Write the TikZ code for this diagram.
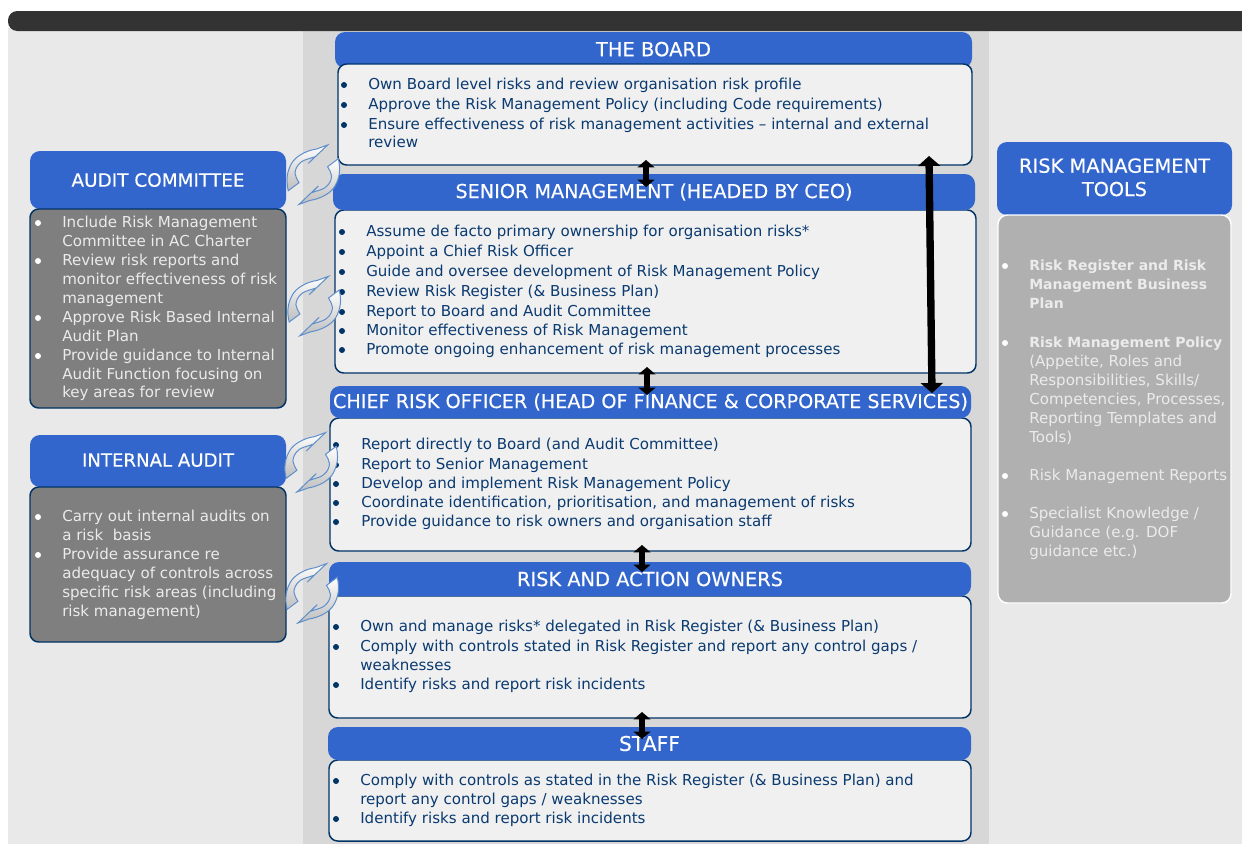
\documentclass[tikz,border=0pt]{standalone}
\usepackage{fontspec}
\usetikzlibrary{arrows.meta,calc}
\setmainfont{DejaVu Sans}
\newfontfamily\headfont[FakeBold=0.25]{DejaVu Sans}
\definecolor{hblue}{HTML}{3366CC}
\definecolor{navy}{HTML}{003366}
\definecolor{bodytxt}{HTML}{0A3A70}
\definecolor{panel}{HTML}{E9E9E9}
\definecolor{midcol}{HTML}{D7D7D7}
\definecolor{bodyfill}{HTML}{F0F0F0}
\definecolor{darkbar}{HTML}{333333}
\definecolor{greybox}{HTML}{7F7F7F}
\definecolor{toolbox}{HTML}{B0B0B0}
\definecolor{cycline}{HTML}{5F8FCB}
\definecolor{cyctail}{HTML}{BDBDBD}
\newcounter{ln}
\tikzset{
  x=0.75pt,y=-0.75pt,
  hdr/.style={rounded corners=7.5pt,fill=hblue,text=white,inner sep=0pt,align=center,font=\headfont\fontsize{14}{17.5}\selectfont},
  bodybox/.style={rounded corners=6.5pt,draw=navy,line width=1.1pt,fill=bodyfill,inner sep=0pt},
  greyb/.style={rounded corners=6.5pt,draw=navy,line width=1.1pt,fill=greybox,inner sep=0pt},
  toolb/.style={rounded corners=7pt,draw=white,line width=1.1pt,fill=toolbox,inner sep=0pt},
  ltxt/.style={anchor=mid west,inner sep=0pt,yshift=-1pt,font=\fontsize{11.3}{13}\selectfont},
  boldt/.style={font=\fontsize{10.5}{13}\selectfont\bfseries},
  dark/.style={text=bodytxt},
  light/.style={text=white!92!black},
  bigarrow/.style={line width=5.5pt,{Triangle[width=16.5pt,length=7.5pt]}-{Triangle[width=16.5pt,length=7.5pt]}},
  smallarrow/.style={line width=3.8pt,{Triangle[width=12.5pt,length=5.5pt]}-{Triangle[width=12.5pt,length=5.5pt]}},
}
% header text fitted to a width in pixels
\newcommand{\hw}[2]{\resizebox{\dimexpr #1pt*3/4\relax}{!}{#2}}
% box from corners: name, style, x1,y1,x2,y2, text
\newcommand{\rbox}[7]{%
  \pgfmathsetmacro{\bw}{(#5-#3)*0.75}\pgfmathsetmacro{\bh}{(#6-#4)*0.75}%
  \node[#2,minimum width=\bw pt,minimum height=\bh pt] (#1) at ({(#3+#5)/2},{(#4+#6)/2}) {#7};}
% text line
\newcommand{\tl}[4]{\stepcounter{ln}\node[ltxt,#1] (t\arabic{ln}) at (#2,#3) {#4};}
% bullet
\newcommand{\bu}[3]{\stepcounter{ln}\node[circle,fill=#1,inner sep=0pt,minimum size=4.5pt] (b\arabic{ln}) at (#2,#3) {};}
% cycle arrows
\newcommand{\cyc}[2]{%
\foreach \r in {0,180}{
\begin{scope}[shift={(#1,#2)},rotate=\r]
\draw[cycline,line width=0.75pt,line join=miter,top color=white,middle color=white,bottom color=cyctail]
 (14.3,-29.7) -- (-5,-11.3) -- (1.7,-18)
 .. controls (-4,-16) and (-9,-15) .. (-11.7,-13)
 .. controls (-17,-9) and (-18,-5) .. (-18.3,-1.3)
 .. controls (-18,2) and (-16,5) .. (-14.3,8)
 -- (-25,16)
 .. controls (-27.5,6) and (-26.5,-3) .. (-21.7,-11.3)
 .. controls (-18,-18) and (-8,-24) .. (3.3,-25.7)
 -- cycle;
\end{scope}}}
\begin{document}
\begin{tikzpicture}
\useasboundingbox (0,0) rectangle (1242,844);
\fill[white] (0,0) rectangle (1242,844);
\fill[panel] (8,28) rectangle (1242,844);
\fill[midcol] (303,31) rectangle (989,844);
\fill[darkbar,rounded corners=7pt] (8,11) rectangle (1262,31);

% middle column
\rbox{boardh}{hdr}{335}{32}{972}{68}{\raisebox{1.5pt}{\hw{115}{THE BOARD}}}
\rbox{boardb}{bodybox}{338}{64}{972}{165}{}
\rbox{srb}{bodybox}{335}{210}{976}{373}{}
\rbox{srh}{hdr}{333}{174}{975}{210}{\hw{397}{SENIOR MANAGEMENT (HEADED BY CEO)}}
\rbox{crob}{bodybox}{330}{418}{971}{551}{}
\rbox{croh}{hdr}{330}{386}{971}{418}{\raisebox{1.5pt}{\hw{635}{CHIEF RISK OFFICER (HEAD OF FINANCE \& CORPORATE SERVICES)}}}
\rbox{rab}{bodybox}{329}{596}{971}{718}{}
\rbox{rah}{hdr}{329}{562}{971}{596}{\hw{266}{RISK AND ACTION OWNERS}}
\rbox{stb}{bodybox}{329}{760}{971}{841}{}
\rbox{sth}{hdr}{328}{727}{971}{760}{\hw{61}{STAFF}}

% left column
\rbox{ach}{hdr}{30}{151}{286}{209}{\hw{173}{AUDIT COMMITTEE}}
\rbox{acb}{greyb}{30}{209}{286}{408}{}
\rbox{iah}{hdr}{30}{435}{286}{487}{\raisebox{1.5pt}{\hw{152}{INTERNAL AUDIT}}}
\rbox{iab}{greyb}{30}{487}{286}{642}{}

% right column
\rbox{toolh}{hdr}{997}{142}{1232}{215}{\hw{191}{RISK MANAGEMENT}\\\hw{65}{TOOLS}\rule[-2pt]{0pt}{2pt}}
\rbox{toolbd}{toolb}{998}{215}{1231}{603}{}

% Board text
\bu{navy}{344}{85}\tl{dark}{368}{85}{Own Board level risks and review organisation risk profile}
\bu{navy}{344}{105}\tl{dark}{368}{105}{Approve the Risk Management Policy (including Code requirements)}
\bu{navy}{344}{125}\tl{dark}{368}{125}{Ensure effectiveness of risk management activities – internal and external}
\tl{dark}{368}{143}{review}
% Senior text
\foreach \yy/\tt in {232/Assume de facto primary ownership for organisation risks*,252/Appoint a Chief Risk Officer,272/Guide and oversee development of Risk Management Policy,292/Review Risk Register (\& Business Plan),312/Report to Board and Audit Committee,331/Monitor effectiveness of Risk Management,350/Promote ongoing enhancement of risk management processes}{
 \bu{navy}{342}{\yy}\tl{dark}{366}{\yy}{\tt}}
% CRO text
\foreach \yy/\tt in {445/Report directly to Board (and Audit Committee),465/Report to Senior Management,484/Develop and implement Risk Management Policy,503/{Coordinate identification, prioritisation, and management of risks},522/Provide guidance to risk owners and organisation staff}{
 \bu{navy}{336}{\yy}\tl{dark}{361}{\yy}{\tt}}
% Risk owners text
\bu{navy}{336}{627}\tl{dark}{360}{627}{Own and manage risks* delegated in Risk Register (\& Business Plan)}
\bu{navy}{336}{647}\tl{dark}{360}{647}{Comply with controls stated in Risk Register and report any control gaps /}
\tl{dark}{360}{666}{weaknesses}
\bu{navy}{336}{685}\tl{dark}{360}{685}{Identify risks and report risk incidents}
% Staff text
\bu{navy}{336}{781}\tl{dark}{360}{781}{Comply with controls as stated in the Risk Register (\& Business Plan) and}
\tl{dark}{360}{800}{report any control gaps / weaknesses}
\bu{navy}{336}{819}\tl{dark}{360}{819}{Identify risks and report risk incidents}
% Audit committee
\bu{white}{38}{223}\tl{light}{62}{223}{Include Risk Management}
\tl{light}{62}{242}{Committee in AC Charter}
\bu{white}{38}{261}\tl{light}{62}{261}{Review risk reports and}
\tl{light}{62}{280}{monitor effectiveness of risk}
\tl{light}{62}{299}{management}
\bu{white}{38}{318}\tl{light}{62}{318}{Approve Risk Based Internal}
\tl{light}{62}{337}{Audit Plan}
\bu{white}{38}{356}\tl{light}{62}{356}{Provide guidance to Internal}
\tl{light}{62}{375}{Audit Function focusing on}
\tl{light}{62}{393}{key areas for review}
% Internal audit
\bu{white}{38}{517}\tl{light}{62}{517}{Carry out internal audits on}
\tl{light}{62}{536}{a risk~~basis}
\bu{white}{38}{555}\tl{light}{62}{555}{Provide assurance re}
\tl{light}{62}{574}{adequacy of controls across}
\tl{light}{62}{593}{specific risk areas (including}
\tl{light}{62}{612}{risk management)}
% Tools
\bu{white}{1005}{266}\tl{light,boldt}{1029}{266}{Risk Register and Risk}
\tl{light,boldt}{1029}{285}{Management Business}
\tl{light,boldt}{1029}{304}{Plan}
\bu{white}{1005}{343}\tl{light,boldt}{1029}{343}{Risk Management Policy}
\foreach \yy/\tt in {362/{(Appetite, Roles and},381/{Responsibilities, Skills/},400/{Competencies, Processes,},419/Reporting Templates and,438/Tools)}{
 \tl{light}{1029}{\yy}{\tt}}
\bu{white}{1005}{476}\tl{light}{1029}{476}{Risk Management Reports}
\bu{white}{1005}{514}\tl{light}{1029}{514}{Specialist Knowledge /}
\tl{light}{1029}{533}{Guidance (e.g. DOF}
\tl{light}{1029}{552}{guidance etc.)}

% cycle arrows
\cyc{313.3}{174.7}
\cyc{314.2}{306}
\cyc{311.2}{462.3}
\cyc{312.2}{593.3}

% double arrows
\coordinate (s1) at (646,160); \coordinate (e1) at (646,187);
\coordinate (s2) at (647,367); \coordinate (e2) at (647,395);
\coordinate (s3) at (642,545); \coordinate (e3) at (642,572);
\coordinate (s4) at (642,712); \coordinate (e4) at (642,739);
\coordinate (s5) at (929,156); \coordinate (e5) at (932,393);
\draw[smallarrow] (s1) -- (e1);
\draw[smallarrow] (s2) -- (e2);
\draw[smallarrow] (s3) -- (e3);
\draw[smallarrow] (s4) -- (e4);
\draw[bigarrow] (s5) -- (e5);
\end{tikzpicture}
\end{document}
